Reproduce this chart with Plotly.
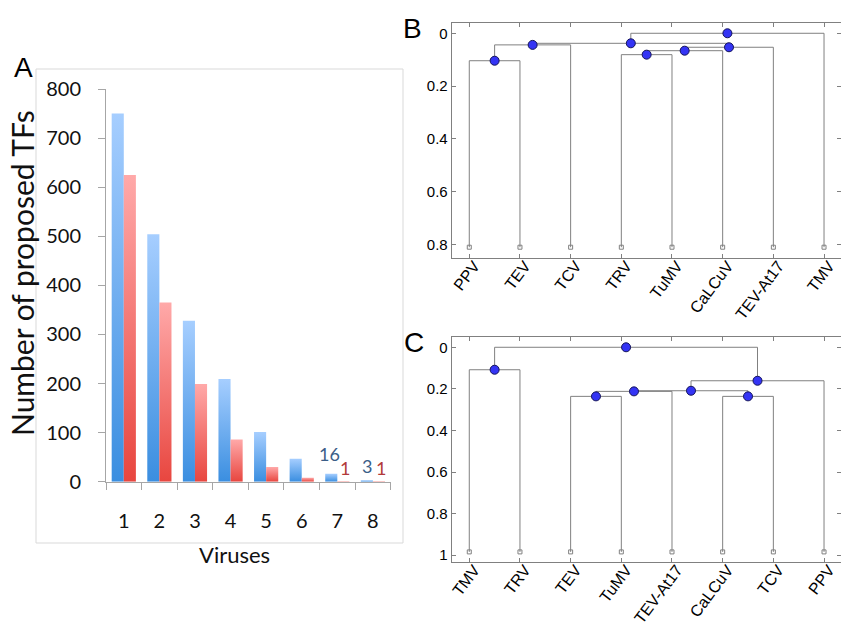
import plotly.graph_objects as go

# ---------------- data ----------------
viruses = [1, 2, 3, 4, 5, 6, 7, 8]
blue_vals = [750, 504, 328, 209, 101, 47, 16, 3]
red_vals = [625, 365, 199, 86, 30, 8, 1, 1]
a_yticks = [0, 100, 200, 300, 400, 500, 600, 700, 800]
a_labels = [(7, "16", "blue"), (7, "1", "red"), (8, "3", "blue"), (8, "1", "red")]

b_leaves = ["PPV", "TEV", "TCV", "TRV", "TuMV", "CaLCuV", "TEV-At17", "TMV"]
b_leaf_height = 0.81
b_merges = [(0, 1, 0.104), (8, 2, 0.044), (3, 4, 0.081), (10, 5, 0.066),
            (11, 6, 0.053), (9, 12, 0.038), (13, 7, 0.0)]

c_leaves = ["TMV", "TRV", "TEV", "TuMV", "TEV-At17", "CaLCuV", "TCV", "PPV"]
c_leaf_height = 0.984
c_merges = [(0, 1, 0.108), (2, 3, 0.236), (9, 4, 0.212), (5, 6, 0.236),
            (10, 11, 0.209), (12, 7, 0.161), (8, 13, 0.0)]

b_yticks = [0, 0.2, 0.4, 0.6, 0.8]
c_yticks = [0, 0.2, 0.4, 0.6, 0.8, 1]

# ---------------- styles ----------------
W, H = 841, 633
BLUE_SCALE = [[0, "#3a8ee0"], [1, "#a6ceff"]]
RED_SCALE = [[0, "#e8463f"], [1, "#ffa9a9"]]
BAR_W = 0.34
LABEL_COLORS = {"blue": "#3b5e88", "red": "#b23a3a"}
LABEL_YSHIFT = [20, 13, 14.5, 13]
LABEL_XSHIFT = [-2, 2, 0, 2]
FONT_A = "Lato"
FONT_BC = "Liberation Sans, Arial"
GREY = "#808080"
LEAF_LABEL_OFFSET = 0.1   # horizontal shift of rotated leaf labels (axis units)


def px_x(p):
    return p / W


def px_y(p):
    return 1 - p / H


fig = go.Figure()

# ---------------- panel A: bars with vertical gradient ----------------
for vals, scale, side in ((blue_vals, BLUE_SCALE, -1), (red_vals, RED_SCALE, 1)):
    for v, val in zip(viruses, vals):
        x0 = v if side > 0 else v - BAR_W
        x1 = v + BAR_W if side > 0 else v
        fig.add_trace(go.Scatter(
            x=[x0, x0, x1, x1, x0], y=[0, val, val, 0, 0],
            mode="none", fill="toself",
            fillgradient=dict(type="vertical", colorscale=scale),
            xaxis="x", yaxis="y", showlegend=False, hoverinfo="skip"))

for (cat, txt, col), ys, xs_ in zip(a_labels, LABEL_YSHIFT, LABEL_XSHIFT):
    vals = blue_vals if col == "blue" else red_vals
    xc = cat - BAR_W / 2 if col == "blue" else cat + BAR_W / 2
    fig.add_annotation(x=xc, y=vals[cat - 1], xref="x", yref="y", text=txt,
                       showarrow=False, xanchor="center", yanchor="middle",
                       yshift=ys, xshift=xs_,
                       font=dict(family=FONT_A, size=18, color=LABEL_COLORS[col]))


# ---------------- dendrograms ----------------
def dendro(leaves, leaf_h, merges, xa, ya):
    n = len(leaves)
    xs = {i: i + 1 for i in range(n)}
    hs = {i: leaf_h for i in range(n)}
    lx, ly, dx, dy = [], [], [], []
    for k, (a, b, h) in enumerate(merges):
        node = n + k
        lx += [xs[a], xs[a], xs[b], xs[b], None]
        ly += [hs[a], h, h, hs[b], None]
        xs[node] = (xs[a] + xs[b]) / 2
        hs[node] = h
        dx.append(xs[node])
        dy.append(h)
    fig.add_trace(go.Scatter(x=lx, y=ly, mode="lines",
                             line=dict(color=GREY, width=1),
                             xaxis=xa, yaxis=ya, showlegend=False, hoverinfo="skip"))
    fig.add_trace(go.Scatter(x=list(range(1, n + 1)), y=[leaf_h] * n, mode="markers",
                             marker=dict(symbol="square-open", size=4, color=GREY,
                                         line=dict(width=1)),
                             xaxis=xa, yaxis=ya, showlegend=False, hoverinfo="skip"))
    fig.add_trace(go.Scatter(x=dx, y=dy, mode="markers",
                             marker=dict(size=9, color="#3434f4",
                                         line=dict(color="#14145a", width=1)),
                             xaxis=xa, yaxis=ya, showlegend=False, hoverinfo="skip"))


dendro(b_leaves, b_leaf_height, b_merges, "x2", "y2")
dendro(c_leaves, c_leaf_height, c_merges, "x3", "y3")

# ---------------- axes ----------------
a_axis_common = dict(showline=True, linecolor="#a6a6a6", linewidth=1,
                     showgrid=False, zeroline=False, tickcolor="#a6a6a6",
                     automargin=False)
fig.update_layout(
    xaxis=dict(domain=[px_x(106), px_x(390.7)], range=[0.5, 8.5],
               tickvals=viruses, ticktext=[str(v) for v in viruses], ticks="",
               ticklabelstandoff=21,
               minor=dict(tickvals=[v - 0.5 for v in viruses] + [8.5], ticks="outside",
                          ticklen=7, tickcolor="#a6a6a6"),
               tickfont=dict(family=FONT_A, size=20, color="#111"),
               anchor="y", **a_axis_common),
    yaxis=dict(domain=[px_y(481.7), px_y(89)], range=[0, 800],
               tickvals=a_yticks, ticks="outside", ticklen=7,
               ticklabelstandoff=13,
               tickfont=dict(family=FONT_A, size=20, color="#111"),
               anchor="x", **a_axis_common),
)

bc_common = dict(showline=True, linecolor=GREY, linewidth=1, mirror="ticks",
                 ticks="inside", ticklen=4, tickcolor=GREY,
                 showgrid=False, zeroline=False, automargin=False)
leaf_pos = list(range(1, 9))
lab_common = dict(range=[0.653, 8.335], domain=[px_x(451.7), 1.0],
                  showline=False, ticks="", showgrid=False, zeroline=False,
                  automargin=False, tickangle=-53, ticklabelstandoff=-6,
                  ticklabeloverflow="allow",
                  tickfont=dict(family=FONT_BC, size=16, color="#000"))
fig.update_layout(
    xaxis2=dict(domain=[px_x(451.7), 1.0], range=[0.653, 8.335],
                tickvals=leaf_pos, showticklabels=False,
                anchor="y2", **bc_common),
    xaxis4=dict(overlaying="x2", anchor="y2",
                tickvals=[p + LEAF_LABEL_OFFSET for p in leaf_pos], ticktext=b_leaves,
                **lab_common),
    yaxis2=dict(domain=[px_y(258.3), px_y(22.7)], range=[0.852, -0.04],
                tickvals=b_yticks, ticktext=["0", "0.2", "0.4", "0.6", "0.8"],
                tickfont=dict(family=FONT_BC, size=15, color="#000"),
                anchor="x2", **bc_common),
    xaxis3=dict(domain=[px_x(451.7), 1.0], range=[0.653, 8.335],
                tickvals=leaf_pos, showticklabels=False,
                anchor="y3", **bc_common),
    xaxis5=dict(overlaying="x3", anchor="y3",
                tickvals=[p + LEAF_LABEL_OFFSET for p in leaf_pos], ticktext=c_leaves,
                **lab_common),
    yaxis3=dict(domain=[px_y(562.3), px_y(337.3)], range=[1.034, -0.048],
                tickvals=c_yticks, ticktext=["0", "0.2", "0.4", "0.6", "0.8", "1"],
                tickfont=dict(family=FONT_BC, size=15, color="#000"),
                anchor="x3", **bc_common),
)
# invisible traces so the label axes are rendered
fig.add_trace(go.Scatter(x=[None], y=[None], xaxis="x4", yaxis="y2", showlegend=False))
fig.add_trace(go.Scatter(x=[None], y=[None], xaxis="x5", yaxis="y3", showlegend=False))

# ---------------- panel A frame, titles, panel letters ----------------
fig.add_shape(type="rect", xref="paper", yref="paper",
              x0=px_x(36), x1=px_x(403), y0=px_y(543), y1=px_y(69),
              line=dict(color="#d9d9d9", width=1), layer="below")
fig.add_annotation(x=px_x(22), y=px_y(273), xref="paper", yref="paper",
                   text="Number of proposed TFs", textangle=-90, showarrow=False,
                   xanchor="center", yanchor="middle",
                   font=dict(family=FONT_A, size=30, color="#111"))
fig.add_annotation(x=px_x(234), y=px_y(554), xref="paper", yref="paper",
                   text="Viruses", showarrow=False, xanchor="center", yanchor="middle",
                   font=dict(family=FONT_A, size=22, color="#111"))
for letter, lx, ly in (("A", 23, 67), ("B", 412, 29), ("C", 414, 342)):
    fig.add_annotation(x=px_x(lx), y=px_y(ly), xref="paper", yref="paper",
                       text=letter, showarrow=False, xanchor="center", yanchor="middle",
                       font=dict(family=FONT_BC, size=28, color="#000"))

fig.update_layout(width=W, height=H, margin=dict(l=0, r=0, t=0, b=0),
                  paper_bgcolor="white", plot_bgcolor="white", showlegend=False)

fig.write_html("out.html")
